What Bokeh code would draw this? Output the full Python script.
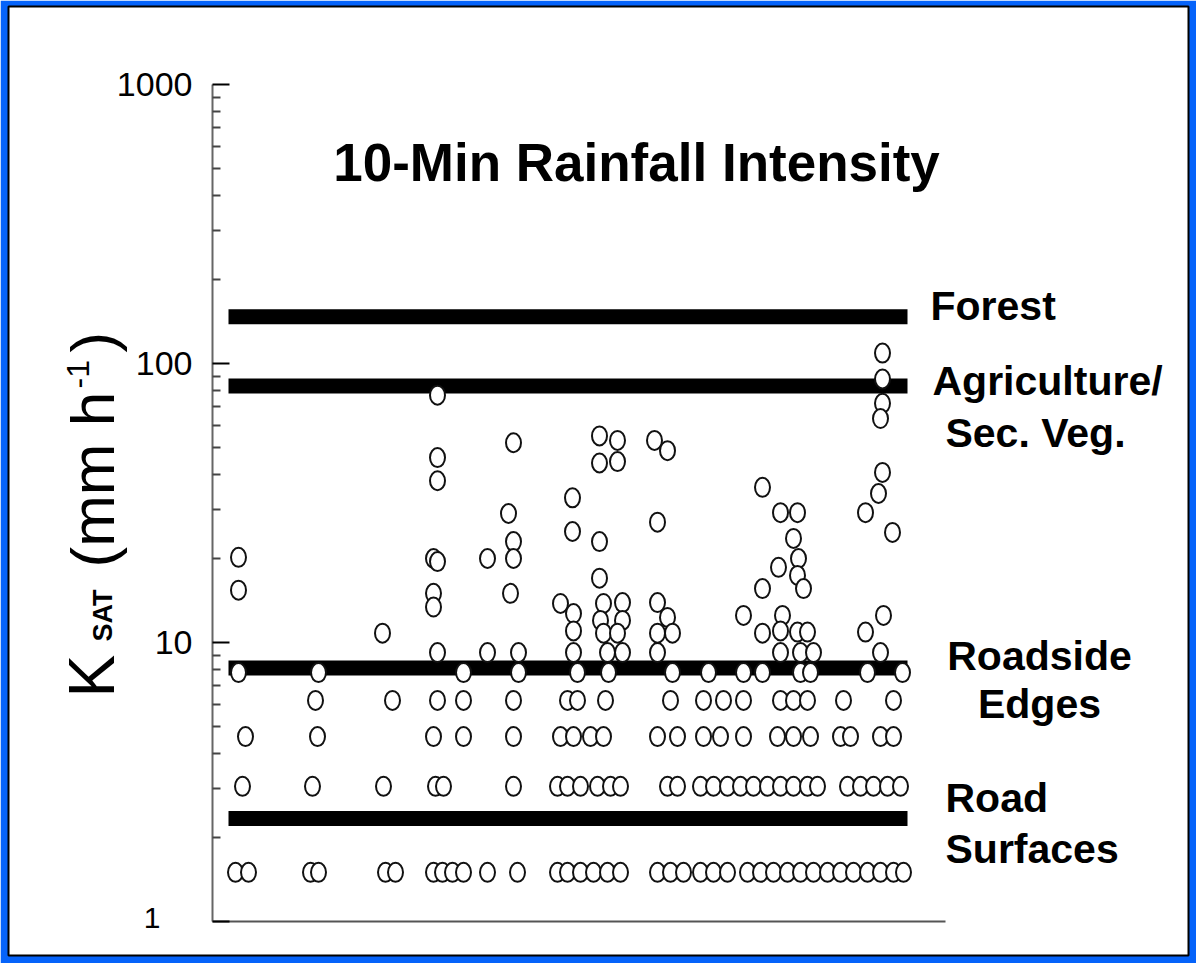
import math
from bokeh.plotting import figure
from bokeh.models import Range1d, Label, FixedTicker, ColumnDataSource, BasicTickFormatter
from bokeh.embed import file_html
from bokeh.resources import INLINE

# ---------------- data ----------------
# reference K_sat levels (mm h-1) for land-cover classes
class_names = ["Forest", "Agriculture/Sec. Veg.", "Roadside Edges", "Road Surfaces"]
class_ksat = [147, 83, 8.1, 2.34]
class_x0 = [1.6, 1.6, 1.6, 1.6]
class_x1 = [69.5, 69.5, 69.5, 69.5]

# sample positions (site order) for the discrete measurement levels
row_levels = [1.5, 3.05, 4.6, 6.2, 7.8, 9.2]
row_1_5 = [2.3, 3.6, 9.8, 10.6, 17.3, 18.3, 22.1, 23.0, 24.0, 25.1, 27.5, 30.5, 34.5, 35.5,
           36.8, 38.1, 39.5, 40.8, 44.5, 45.8, 47.1, 48.8, 50.1, 51.5, 53.5, 54.8, 56.1, 57.5,
           58.8, 60.1, 61.5, 62.8, 64.1, 65.5, 66.8, 68.1, 69.1]
row_3_05 = [3.0, 10.0, 17.1, 22.3, 23.1, 30.1, 34.5, 35.5, 36.8, 38.5, 39.8, 40.8, 45.5, 46.5,
            48.8, 50.1, 51.5, 52.8, 54.1, 55.5, 56.8, 58.1, 59.5, 60.5, 63.5, 64.8, 66.1, 67.5, 68.8]
row_4_6 = [3.3, 10.5, 22.1, 25.1, 30.1, 34.8, 36.1, 37.8, 39.1, 44.5, 46.5, 49.1, 50.8, 53.1,
           56.5, 58.1, 59.8, 62.8, 63.8, 66.8, 68.1]
row_6_2 = [10.3, 18.0, 22.5, 25.1, 30.1, 35.5, 36.5, 39.3, 45.8, 49.1, 51.1, 53.1, 56.8, 58.1,
           59.5, 63.1, 68.1]
row_7_8 = [2.6, 10.6, 25.1, 30.6, 36.5, 39.6, 46.0, 49.6, 53.1, 55.0, 58.8, 59.8, 65.5, 69.0]
row_9_2 = [22.5, 27.5, 30.6, 36.1, 39.5, 41.0, 44.5, 56.8, 58.8, 60.1, 66.8]
rows = [row_1_5, row_3_05, row_4_6, row_6_2, row_7_8, row_9_2]

# remaining individual measurements
other_x = [2.6, 2.6, 17.0, 22.5, 22.5, 22.5, 22.1, 22.5, 22.1, 22.1, 30.1, 29.6, 30.1, 30.1, 27.5,
           29.8, 34.8, 36.0, 36.0, 38.7, 40.5, 38.7, 40.5, 44.2, 45.5, 38.7, 44.5, 38.7, 36.1, 36.1,
           39.1, 41.0, 38.8, 41.0, 39.1, 40.5, 44.5, 45.5, 44.5, 46.0, 55.0, 56.8, 58.5, 58.1, 58.6,
           56.6, 58.5, 59.1, 55.0, 53.1, 55.0, 57.0, 56.8, 58.5, 59.5, 67.0, 67.0, 67.0, 66.8, 67.0,
           66.6, 65.3, 68.0, 67.1, 65.3]
other_ksat = [20.2, 15.4, 10.8, 77, 46, 38, 20, 19.5, 15, 13.4, 52, 29, 23, 20, 20,
              15, 13.8, 33, 25, 55, 53, 44, 44.5, 53, 48.7, 23, 27, 17, 12.7, 11,
              13.8, 13.9, 12, 12, 10.8, 10.8, 13.9, 12.3, 10.8, 10.8, 36, 29.2, 29.2, 23.6, 20,
              18.6, 17.4, 15.6, 15.6, 12.5, 10.8, 12.5, 11, 10.9, 10.9, 109, 88, 72, 63.5, 40.7,
              34.2, 29.2, 24.8, 12.5, 10.9]

y_ticks = [1, 10, 100, 1000]
title_text = "10-Min Rainfall Intensity"

# ---------------- build ----------------
xs, ys = [], []
for lvl, r in zip(row_levels, rows):
    xs += r
    ys += [lvl] * len(r)
xs += other_x
ys += other_ksat
pts = ColumnDataSource(dict(x=xs, y=ys))
lines = ColumnDataSource(dict(x0=class_x0, x1=class_x1, y=class_ksat, name=class_names))

p = figure(width=1196, height=963, output_backend="svg", toolbar_location=None,
           x_range=Range1d(-20.4, 97.6), y_range=Range1d(0.7552, 1904), y_axis_type="log",
           min_border_left=8, min_border_right=8, min_border_top=6, min_border_bottom=8,
           background_fill_color="white", border_fill_color="#0563FA")
p.outline_line_color = "black"
p.outline_line_width = 2
p.grid.visible = False

ya = p.yaxis[0]
ya.fixed_location = 0
ya.bounds = (1, 1000)
ya.ticker = FixedTicker(ticks=y_ticks, minor_ticks=[m * d for d in [1, 10, 100] for m in range(2, 10)])
ya.formatter = BasicTickFormatter(use_scientific=False)
ya.major_label_overrides = {1: ""}
ya.major_label_text_font = "Liberation Sans"
ya.major_label_text_font_size = "34px"
ya.major_label_text_color = "black"
ya.major_label_standoff = 20
ya.major_tick_in = 17
ya.major_tick_out = 0
ya.minor_tick_in = 8
ya.minor_tick_out = 0
ya.axis_line_color = "#666666"
ya.axis_line_width = 2
ya.major_tick_line_color = "black"
ya.major_tick_line_width = 2
ya.minor_tick_line_color = "#444444"
ya.minor_tick_line_width = 2

xa = p.xaxis[0]
xa.fixed_location = 1
xa.bounds = (0, 73.3)
xa.ticker = FixedTicker(ticks=[])
xa.axis_line_color = "#555555"
xa.axis_line_width = 2
xa.major_tick_in = 0
xa.major_tick_out = 0
xa.minor_tick_in = 0
xa.minor_tick_out = 0

p.segment(x0="x0", x1="x1", y0="y", y1="y", source=lines, line_color="black", line_width=15)
p.ellipse(x="x", y="y", width=15, height=19, width_units="screen", height_units="screen",
          source=pts, fill_color="white", line_color="#111111", line_width=2)

FONT = "Liberation Sans"

def lab(text, x, y, size, bold=False, align="left", baseline="middle", angle=0.0):
    p.add_layout(Label(x=x, y=y, x_units="screen", y_units="screen", text=text,
                       text_font=FONT, text_font_size=f"{size}px",
                       text_font_style="bold" if bold else "normal",
                       text_align=align, text_baseline=baseline, angle=angle,
                       text_color="black"))

# title
lab(title_text, 628, 793, 53, bold=True, align="center")
# class labels (right side)
lab("Forest", 922, 650, 41, bold=True)
lab("Agriculture/", 924, 575, 41, bold=True)
lab("Sec. Veg.", 1027, 523, 41, bold=True, align="center")
lab("Roadside", 1031, 300, 41, bold=True, align="center")
lab("Edges", 1031, 252, 41, bold=True, align="center")
lab("Road", 937, 158, 41, bold=True)
lab("Surfaces", 937, 107, 41, bold=True)
# tick label "1"
lab("1", 152, 38, 30, align="right")
# rotated axis label K_SAT (mm h^-1)
rot = math.pi / 2
lab("K", 83, 258, 64, baseline="alphabetic", angle=rot)
lab("SAT", 94, 314, 27, bold=True, baseline="alphabetic", angle=rot)
lab("(mm h", 84, 388, 62, baseline="alphabetic", angle=rot)
lab("-1", 69, 567, 32, baseline="alphabetic", angle=rot)
lab(")", 84, 603, 62, baseline="alphabetic", angle=rot)

open("out.html", "w").write(file_html(p, INLINE))
